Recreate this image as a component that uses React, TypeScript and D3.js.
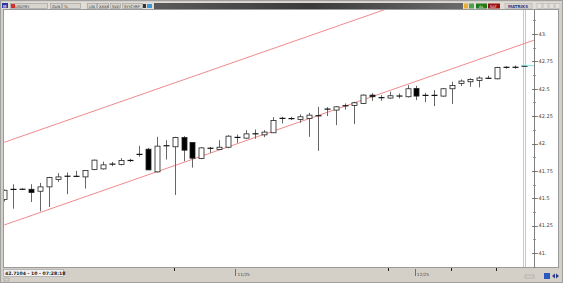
import React, { useEffect } from 'react';
import * as d3 from 'd3';

const opens = [41.488, 41.58, 41.582, 41.582, 41.564, 41.604, 41.671, 41.700, 41.70, 41.695, 41.762, 41.768, 41.811, 41.808, 41.846, 41.90, 41.948, 41.741, 41.979, 41.97, 42.055, 42.009, 41.863, 41.958, 41.945, 41.966, 42.055, 42.049, 42.088, 42.079, 42.098, 42.229, 42.232, 42.22, 42.229, 42.253, 42.316, 42.305, 42.344, 42.348, 42.366, 42.442, 42.418, 42.415, 42.433, 42.427, 42.503, 42.439, 42.439, 42.433, 42.5, 42.549, 42.564, 42.576, 42.595, 42.591, 42.695, 42.695, 42.70];
const highs = [41.58, 41.628, 41.59, 41.628, 41.64, 41.695, 41.729, 41.735, 41.75, 41.753, 41.854, 41.835, 41.832, 41.866, 41.86, 41.979, 41.96, 42.061, 42.03, 42.061, 42.067, 42.009, 41.966, 41.969, 42.03, 42.076, 42.082, 42.122, 42.128, 42.122, 42.241, 42.244, 42.244, 42.265, 42.28, 42.335, 42.332, 42.341, 42.366, 42.381, 42.448, 42.46, 42.442, 42.473, 42.457, 42.533, 42.527, 42.463, 42.488, 42.506, 42.564, 42.585, 42.595, 42.613, 42.619, 42.701, 42.707, 42.713, 42.716];
const lows = [41.47, 41.405, 41.575, 41.466, 41.381, 41.42, 41.649, 41.537, 41.695, 41.588, 41.756, 41.762, 41.793, 41.80, 41.83, 41.878, 41.759, 41.735, 41.854, 41.53, 41.838, 41.78, 41.857, 41.915, 41.945, 41.957, 42.006, 42.043, 42.043, 42.058, 42.098, 42.183, 42.214, 42.189, 42.061, 41.933, 42.25, 42.168, 42.31, 42.177, 42.36, 42.39, 42.39, 42.409, 42.412, 42.421, 42.396, 42.378, 42.341, 42.427, 42.36, 42.524, 42.518, 42.512, 42.595, 42.585, 42.683, 42.683, 42.70];
const closes = [41.573, 41.582, 41.582, 41.552, 41.604, 41.689, 41.695, 41.702, 41.70, 41.753, 41.848, 41.805, 41.812, 41.845, 41.844, 41.901, 41.759, 41.976, 41.98, 42.055, 41.939, 41.866, 41.96, 41.955, 41.966, 42.067, 42.056, 42.088, 42.089, 42.104, 42.21, 42.23, 42.223, 42.244, 42.259, 42.254, 42.312, 42.335, 42.345, 42.372, 42.442, 42.427, 42.419, 42.436, 42.434, 42.5, 42.433, 42.44, 42.44, 42.5, 42.53, 42.57, 42.585, 42.598, 42.596, 42.695, 42.696, 42.697, 42.7104];

const yTickValues = [41, 41.25, 41.5, 41.75, 42, 42.25, 42.5, 42.75, 43];
const yTickLabels = ['41.', '41.25', '41.5', '41.75', '42.', '42.25', '42.5', '42.75', '43.'];
const monthTickIdx = [25.8, 45.8];
const monthLabels = ['11/25', '12/25'];
const minorXTickIdx = [18.9, 42.8, 49.9, 54.9];
const upperChannel: [number, number][] = [[0, 42.011], [59.1, 43.698]];
const lowerChannel: [number, number][] = [[0, 41.256], [59.1, 42.943]];
const lastPrice = 42.7104;
const statusText = '42.7104 - 10 - 07:28:18';
const toolbarLeft = [
  { t: 'USDTRY', x: 10, w: 37 },
  { t: 'GUN', x: 50, w: 11 },
  { t: 'TL', x: 62, w: 18 },
  { t: 'LIN', x: 87, w: 9 },
  { t: 'XXXX', x: 97, w: 11 },
  { t: 'SVD', x: 110, w: 10 },
  { t: 'SYYCYRP', x: 122, w: 20 },
];

export default function App() {
  useEffect(() => {
    document.body.style.margin = '0';
  }, []);
  const W = 563, H = 283;
  const x = d3.scaleLinear().domain([0, 58]).range([4.3, 524]);
  const y = d3.scaleLinear().domain([41, 43]).range([253, 34]);
  const font = 'DejaVu Sans, sans-serif';
  const line = d3.line<[number, number]>().x(d => x(d[0])).y(d => y(d[1]));
  const minorTicks = d3.range(40.875, 43.2, 0.125);

  return (
    <svg width={W} height={H} style={{ display: 'block' }} fontFamily={font}>
      <defs>
        <linearGradient id="tbg" x1="0" x2="1" y1="0" y2="0">
          <stop offset="0" stopColor="#5a5a5a" />
          <stop offset="0.5" stopColor="#3a3a3a" />
          <stop offset="1" stopColor="#6a6a6a" />
        </linearGradient>
        <clipPath id="plotClip">
          <rect x={4} y={10} width={530} height={257} />
        </clipPath>
      </defs>
      <rect x={0} y={0} width={W} height={H} fill="#d4d0c8" />
      <rect x={0.5} y={0.5} width={W - 1} height={H - 1} fill="none" stroke="#a0a0a0" />
      {/* toolbar */}
      <rect x={2} y={2} width={W - 4} height={7} fill="#e0ddd6" />
      <rect x={2} y={3} width={6} height={5} fill="#2a3aa0" />
      <text x={3} y={7.5} fontSize={4} fill="#fff">M</text>
      {toolbarLeft.map((b, i) => (
        <g key={i}>
          <rect x={b.x + 0.5} y={3.5} width={b.w} height={5} fill="#d8d5ce" stroke="#999" strokeWidth={0.6} />
          <text x={b.x + (i === 0 ? 5 : 2)} y={7.6} fontSize={3.6} fill="#333">{b.t}</text>
        </g>
      ))}
      <rect x={11} y={4} width={4} height={4} fill="#d03030" />
      <rect x={143} y={4} width={3} height={4} fill="#333" />
      <rect x={147} y={4} width={5} height={4} fill="#3a9ad8" />
      <rect x={154} y={3} width={309} height={6} fill="url(#tbg)" />
      <rect x={464} y={3.5} width={4} height={5} fill="#e8b030" />
      <rect x={469} y={3.5} width={5} height={5} fill="#50a050" />
      <rect x={476} y={3.5} width={11} height={5} fill="#1c7a1c" />
      <text x={479} y={7.6} fontSize={3.6} fill="#fff">AL</text>
      <rect x={488} y={3.5} width={12} height={5} fill="#9a1010" />
      <text x={490} y={7.6} fontSize={3.6} fill="#fff">SAT</text>
      <rect x={505} y={3.5} width={27} height={5} fill="#d8d5ce" stroke="#aaa" strokeWidth={0.5} />
      <text x={508} y={7.7} fontSize={4} fontWeight="bold" fill="#2a3a8a">MATRIKS</text>
      {[537, 543, 549, 555].map((bx, i) => (
        <rect key={i} x={bx} y={3.5} width={5} height={5} fill="#e4e1da" stroke="#aaa" strokeWidth={0.5} />
      ))}
      {/* plot area */}
      <rect x={3.5} y={9.5} width={555} height={258} fill="#ffffff" stroke="#9a9a9a" />
      <line x1={523.5} x2={523.5} y1={10} y2={267} stroke="#c8c8c8" />
      <line x1={525.5} x2={525.5} y1={10} y2={267} stroke="#c8c8c8" />
      {/* channel */}
      <g clipPath="url(#plotClip)">
        <path d={line(upperChannel) || ''} stroke="#f08a8a" strokeWidth={1} fill="none" />
        <path d={line(lowerChannel) || ''} stroke="#f08a8a" strokeWidth={1} fill="none" />
      </g>
      {/* candles */}
      <g clipPath="url(#plotClip)">
        {opens.map((o, i) => {
          const c = closes[i];
          const cx = Math.round(x(i)) + 0.5;
          const top = y(Math.max(o, c));
          const bot = y(Math.min(o, c));
          const down = c < o;
          const h = bot - top;
          return (
            <g key={i}>
              <line x1={cx} x2={cx} y1={y(highs[i])} y2={y(lows[i])} stroke="#666" strokeWidth={1} />
              {h < 1.6 ? (
                <line x1={cx - 3} x2={cx + 3} y1={(top + bot) / 2} y2={(top + bot) / 2} stroke="#111" strokeWidth={1.2} />
              ) : (
                <rect x={cx - 2.5} y={top} width={5} height={h} fill={down ? '#000' : '#fff'} stroke="#222" strokeWidth={0.8} />
              )}
            </g>
          );
        })}
      </g>
      {/* last price marker */}
      <line x1={521} x2={534} y1={y(lastPrice)} y2={y(lastPrice)} stroke="#7fe0e8" strokeWidth={1} />
      {/* y axis */}
      <line x1={534.5} x2={534.5} y1={10} y2={267} stroke="#808080" />
      {minorTicks.map((v, i) => (
        <line key={i} x1={533} x2={536} y1={Math.round(y(v)) + 0.5} y2={Math.round(y(v)) + 0.5} stroke="#888" strokeWidth={0.8} />
      ))}
      {yTickValues.map((v, i) => (
        <g key={i}>
          <line x1={532} x2={538} y1={Math.round(y(v)) + 0.5} y2={Math.round(y(v)) + 0.5} stroke="#666" strokeWidth={0.8} />
          <text x={538.5} y={y(v) + 1.8} fontSize={5} fill="#444">{yTickLabels[i]}</text>
        </g>
      ))}
      {/* bottom status */}
      <rect x={3.5} y={269.5} width={60} height={7} fill="#f0f0f0" stroke="#999" strokeWidth={0.6} />
      <text x={5} y={275} fontSize={4.6} fontWeight="bold" fill="#222">{statusText}</text>
      <rect x={4} y={278} width={5} height={3} fill="none" stroke="#999" strokeWidth={0.5} />
      {minorXTickIdx.map((v, i) => (
        <line key={i} x1={Math.round(x(v)) + 0.5} x2={Math.round(x(v)) + 0.5} y1={268} y2={271} stroke="#222" strokeWidth={1} />
      ))}
      {monthTickIdx.map((v, i) => (
        <g key={i}>
          <line x1={Math.round(x(v)) + 0.5} x2={Math.round(x(v)) + 0.5} y1={269} y2={276} stroke="#555" strokeWidth={0.8} />
          <text x={x(v) + 2} y={275.5} fontSize={4.3} fill="#444">{monthLabels[i]}</text>
        </g>
      ))}
      <rect x={525} y={275} width={9} height={3} fill="none" stroke="#999" strokeWidth={0.5} />
      <rect x={544} y={273} width={6} height={6} fill="#2a5ac0" />
      <path d="M552,276 l3,-2.5 v5 z M559,276 l-3,-2.5 v5 z" fill="#2a3a8a" />
    </svg>
  );
}
